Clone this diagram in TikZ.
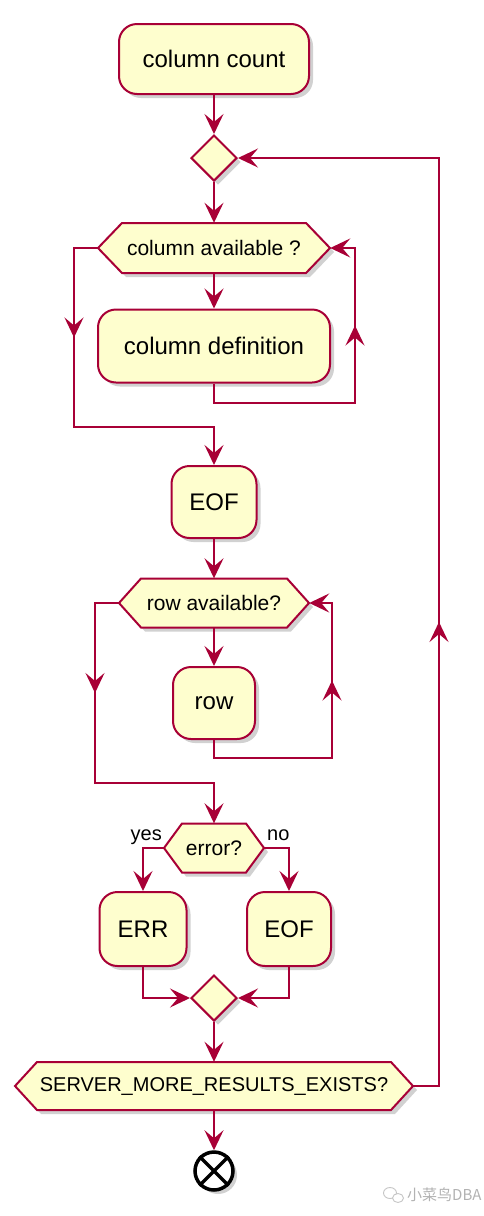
\documentclass[tikz,border=0pt]{standalone}
\usepackage{fontspec}
\setmainfont{Liberation Sans}
\newfontfamily\cjkfont{Noto Sans CJK SC}
\usetikzlibrary{arrows.meta,shapes.geometric,shadows,decorations.markings}
\definecolor{umlred}{HTML}{A80036}
\definecolor{umlfill}{HTML}{FEFECE}
\tikzset{
  umlshadow/.style={drop shadow={shadow xshift=4pt,shadow yshift=-4pt,fill=black,opacity=0.18}},
  actbox/.style={draw=umlred,fill=umlfill,line width=2pt,rounded corners=18pt,umlshadow,
    font=\fontsize{24}{28}\selectfont,inner sep=0pt},
  hexshape/.style={draw=umlred,fill=umlfill,line width=2pt,umlshadow},
  hextext/.style={inner sep=0pt,font=\fontsize{21}{25}\selectfont},
  mergedia/.style={diamond,draw=umlred,fill=umlfill,line width=2pt,minimum width=46pt,minimum height=46pt,inner sep=0pt,umlshadow},
  flow/.style={draw=umlred,line width=2pt},
  tip/.style={-{Stealth[length=20pt,width=19pt,inset=8pt]}},
  midarr/.style={postaction={decorate},decoration={markings,mark=at position 0.5 with {\arrow{Stealth[length=20pt,width=19pt,inset=8pt]}}}},
  lbl/.style={font=\fontsize{20}{24}\selectfont,inner sep=0pt}
}
% name, cx, cy, width, height, indent, text
\newcommand\hexnode[7]{%
  \path[hexshape] (#2-#4/2,#3) -- (#2-#4/2+#6,#3-#5/2) -- (#2+#4/2-#6,#3-#5/2) -- (#2+#4/2,#3)
     -- (#2+#4/2-#6,#3+#5/2) -- (#2-#4/2+#6,#3+#5/2) -- cycle;
  \node[hextext,minimum width=#4,minimum height=#5] (#1) at (#2,#3) {#7};
}
\begin{document}
\begin{tikzpicture}[x=1pt,y=-1pt]
\useasboundingbox[fill=white] (0,0) rectangle (484,1216);

% nodes
\node[actbox,minimum width=190,minimum height=70] (cc) at (214,59) {column count};
\node[mergedia] (d1) at (214,158) {};
\hexnode{h1}{214}{248}{232}{50}{24}{column available ?}
\node[actbox,minimum width=232,minimum height=73] (cd) at (214,346) {column definition};
\node[actbox,minimum width=85,minimum height=72] (eof1) at (214,502) {EOF};
\hexnode{h2}{214}{603}{190}{49}{22}{row available?}
\node[actbox,minimum width=82,minimum height=72] (row) at (214,703) {row};
\hexnode{er}{214}{848}{100}{49}{18}{error?}
\node[actbox,minimum width=87,minimum height=74] (errb) at (143,929) {ERR};
\node[actbox,minimum width=84,minimum height=74] (eof2) at (289,929) {EOF};
\node[mergedia] (d3) at (214,998) {};
\hexnode{hs}{214}{1086}{398}{48}{22}{\fontsize{20}{24}\selectfont SERVER\_MORE\_RESULTS\_EXISTS?}
\node[circle,draw=black,fill=white,line width=3.5pt,minimum size=38pt,inner sep=0pt,umlshadow] (fin) at (214,1171) {};
\draw[black,line width=3.5pt] (fin.north east) -- (fin.south west) (fin.north west) -- (fin.south east);

\node[lbl,anchor=base east] (yes) at (162,840) {yes};
\node[lbl,anchor=base west] (no) at (267,840) {no};

% helper coordinates
\coordinate (L1a) at (74,248);
\coordinate (L1b) at (74,427);
\coordinate (R1a) at (355,248);
\coordinate (R1b) at (355,403);
\coordinate (L2a) at (95,603);
\coordinate (L2b) at (95,783);
\coordinate (R2a) at (332,603);
\coordinate (R2b) at (332,758);
\coordinate (R3a) at (439,158);
\coordinate (R3b) at (439,1086);

% connectors
\draw[flow,tip] (cc) -- (d1);
\draw[flow,tip] (d1) -- (h1);
\draw[flow,tip] (h1) -- (cd);
\draw[flow,tip] (h1.west) -- (L1a) -- (L1b) -| (eof1.north);
\draw[flow,midarr] (L1a) -- (L1b);
\draw[flow,tip] (cd.south) |- (R1b) -- (R1a) -- (h1.east);
\draw[flow,midarr] (R1b) -- (R1a);
\draw[flow,tip] (eof1) -- (h2);
\draw[flow,tip] (h2) -- (row);
\draw[flow,tip] (h2.west) -- (L2a) -- (L2b) -| (er.north);
\draw[flow,midarr] (L2a) -- (L2b);
\draw[flow,tip] (row.south) |- (R2b) -- (R2a) -- (h2.east);
\draw[flow,midarr] (R2b) -- (R2a);
\draw[flow,tip] (er.west) -| (errb.north);
\draw[flow,tip] (er.east) -| (eof2.north);
\draw[flow,tip] (errb.south) |- (d3.west);
\draw[flow,tip] (eof2.south) |- (d3.east);
\draw[flow,tip] (d3) -- (hs);
\draw[flow,tip] (hs.east) -- (R3b) -- (R3a) -- (d1.east);
\draw[flow,midarr] (R3b) -- (R3a);
\draw[flow,tip] (hs.south) -- (fin.north);

% watermark
\draw[gray!45,line width=0.9pt] (390,1193) ellipse (6.5 and 5.5);
\draw[gray!45,line width=0.9pt,fill=white] (398,1198) ellipse (5.5 and 4.5);
\node[anchor=west,text=gray!60,font=\cjkfont\fontsize{15}{17}\selectfont,inner sep=0pt] (wm) at (407,1195) {小菜鸟DBA};
\end{tikzpicture}
\end{document}
